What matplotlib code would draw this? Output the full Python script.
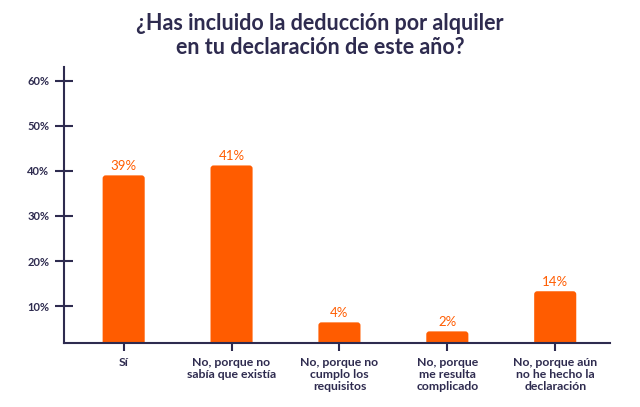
import matplotlib
matplotlib.use("Agg")
import matplotlib.pyplot as plt
from matplotlib.patches import FancyBboxPatch

plt.rcParams['font.family'] = ['Lato', 'DejaVu Sans']

categorias = ["Sí", "No, porque no\nsabía que existía", "No, porque no\ncumplo los\nrequisitos",
              "No, porque\nme resulta\ncomplicado", "No, porque aún\nno he hecho la\ndeclaración"]
alturas = [39, 41.2, 6.4, 4.4, 13.3]   # altura dibujada de cada barra (%)
etiquetas = ["39%", "41%", "4%", "2%", "14%"]
ticks_y = [10, 20, 30, 40, 50, 60]

navy = "#2e2b4f"
naranja = "#ff5c00"

fig = plt.figure(figsize=(6.4, 4.07), dpi=100)
ax = fig.add_axes([0.1, 0.157, 0.853, 0.678])

x = list(range(len(categorias)))
ax.set_xlim(-0.553, 4.507)
ax.set_ylim(1.8, 63)

barras = ax.bar(x, alturas, width=0.39, color=naranja, zorder=2)
# esquinas redondeadas
fig.canvas.draw()
px_x = ax.transData.transform((1, 0))[0] - ax.transData.transform((0, 0))[0]
px_y = ax.transData.transform((0, 1))[1] - ax.transData.transform((0, 0))[1]
for b in barras:
    b.set_visible(False)
    p = FancyBboxPatch((b.get_x(), 0), b.get_width(), b.get_height(),
                       boxstyle="round,pad=0,rounding_size=0.028",
                       mutation_aspect=px_x / px_y, fc=naranja, ec="none", zorder=2)
    ax.add_patch(p)

for b, txt in zip(barras, etiquetas):
    ax.annotate(txt, (b.get_x() + b.get_width() / 2, b.get_height()),
                xytext=(0, 2.5), textcoords="offset points",
                ha="center", va="bottom", color=naranja, fontsize=9.5)

ax.set_yticks(ticks_y)
ax.set_yticklabels([f"{t}%" for t in ticks_y])
ax.set_xticks(x)
ax.set_xticklabels(categorias, fontsize=8.8, color=navy, fontweight="bold", linespacing=1.1)

for s in ["top", "right"]:
    ax.spines[s].set_visible(False)
for s in ["left", "bottom"]:
    ax.spines[s].set_color(navy)
    ax.spines[s].set_linewidth(1.5)

ax.tick_params(axis="y", direction="inout", length=13, width=1.5, color=navy,
               labelcolor=navy, labelsize=8, pad=4)
ax.tick_params(axis="x", direction="out", length=6, width=1.5, color=navy, pad=4)
for lbl in ax.get_yticklabels():
    lbl.set_fontweight("bold")

fig.text(0.5, 0.913, "¿Has incluido la deducción por alquiler\nen tu declaración de este año?",
         ha="center", va="center", fontsize=15.5, color=navy, fontweight="bold", linespacing=1.2)

fig.savefig("out.png", dpi=100)
